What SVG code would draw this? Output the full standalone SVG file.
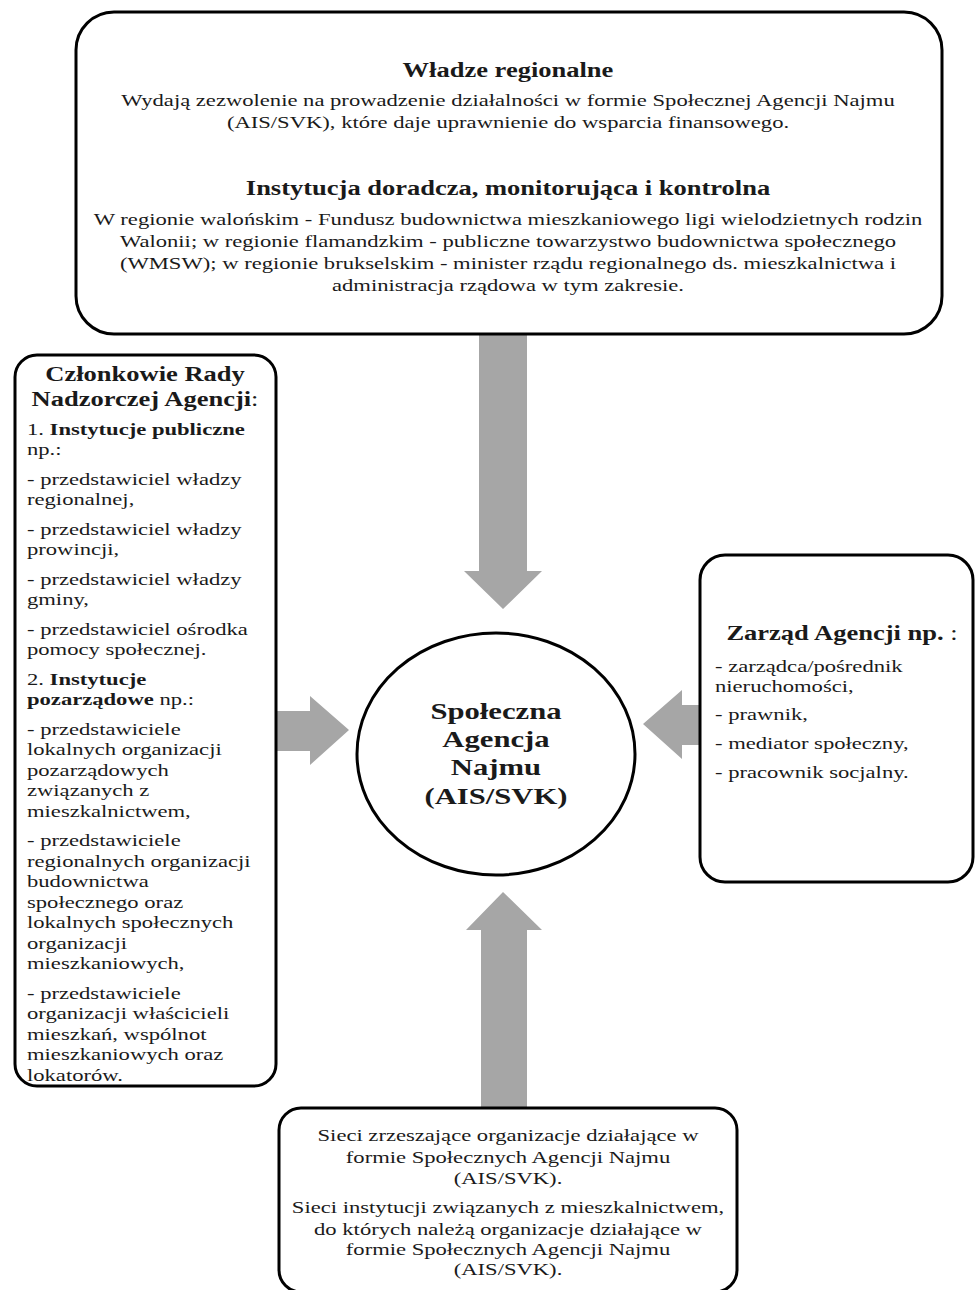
<svg xmlns="http://www.w3.org/2000/svg" width="975" height="1290" viewBox="0 0 975 1290">
<style>
.box{fill:#fff;stroke:#000;stroke-width:3}
.arr{fill:#a6a6a6}
text{font-family:"Liberation Serif","Times New Roman",serif;fill:#1a1a1a}
.b{font-weight:bold}
.t{font-size:20.4px;font-weight:bold}
.p{font-size:17.4px}
.c{font-size:23.6px;font-weight:bold}
</style>
<rect width="975" height="1290" fill="#fff"/>
<g id="connectors">
<polygon class="arr" points="479,334 527,334 527,571 542,571 503,609 464,571 479,571"/>
<polygon class="arr" points="276,711 310,711 310,696 349,730 310,765 310,751 276,751"/>
<polygon class="arr" points="700,705 682,705 682,690 643,724 682,759 682,745 700,745"/>
<polygon class="arr" points="481,1108 527,1108 527,930 542,930 503,892 466,930 481,930"/>
</g>
<g id="regional">
<rect class="box" x="76" y="12" width="866" height="322" rx="38"/>
<g transform="translate(508 0) scale(1.3 1)" text-anchor="middle">
<text class="t" x="0" y="77">Władze regionalne</text>
<text class="p" x="0" y="106">Wydają zezwolenie na prowadzenie działalności w formie Społecznej Agencji Najmu</text>
<text class="p" x="0" y="128">(AIS/SVK), które daje uprawnienie do wsparcia finansowego.</text>
<text class="t" x="0" y="195">Instytucja doradcza, monitorująca i kontrolna</text>
<text class="p" x="0" y="225">W regionie walońskim - Fundusz budownictwa mieszkaniowego ligi wielodzietnych rodzin</text>
<text class="p" x="0" y="247">Walonii; w regionie flamandzkim - publiczne towarzystwo budownictwa społecznego</text>
<text class="p" x="0" y="269">(WMSW); w regionie brukselskim - minister rządu regionalnego ds. mieszkalnictwa i</text>
<text class="p" x="0" y="291">administracja rządowa w tym zakresie.</text>
</g>
</g>
<g id="board">
<rect class="box" x="15" y="355" width="261" height="731" rx="22"/>
<g transform="translate(145 0) scale(1.3 1)" text-anchor="middle">
<text class="t" x="0" y="381">Członkowie Rady</text>
<text class="t" x="0" y="406">Nadzorczej Agencji<tspan font-weight="normal">:</tspan></text>
</g>
<g transform="translate(27 0) scale(1.3 1)">
<text class="p" x="0" y="435">1. <tspan class="b">Instytucje publiczne</tspan></text>
<text class="p" x="0" y="455.5">np.:</text>
<text class="p" x="0" y="485">- przedstawiciel władzy</text>
<text class="p" x="0" y="505.5">regionalnej,</text>
<text class="p" x="0" y="535">- przedstawiciel władzy</text>
<text class="p" x="0" y="555.5">prowincji,</text>
<text class="p" x="0" y="585">- przedstawiciel władzy</text>
<text class="p" x="0" y="605.5">gminy,</text>
<text class="p" x="0" y="635">- przedstawiciel ośrodka</text>
<text class="p" x="0" y="655.5">pomocy społecznej.</text>
<text class="p" x="0" y="685">2. <tspan class="b">Instytucje</tspan></text>
<text class="p" x="0" y="705.5"><tspan class="b">pozarządowe</tspan> np.:</text>
<text class="p" x="0" y="735">- przedstawiciele</text>
<text class="p" x="0" y="755.5">lokalnych organizacji</text>
<text class="p" x="0" y="776">pozarządowych</text>
<text class="p" x="0" y="796.5">związanych z</text>
<text class="p" x="0" y="817">mieszkalnictwem,</text>
<text class="p" x="0" y="846.5">- przedstawiciele</text>
<text class="p" x="0" y="867">regionalnych organizacji</text>
<text class="p" x="0" y="887.5">budownictwa</text>
<text class="p" x="0" y="908">społecznego oraz</text>
<text class="p" x="0" y="928.5">lokalnych społecznych</text>
<text class="p" x="0" y="949">organizacji</text>
<text class="p" x="0" y="969.5">mieszkaniowych,</text>
<text class="p" x="0" y="999">- przedstawiciele</text>
<text class="p" x="0" y="1019.5">organizacji właścicieli</text>
<text class="p" x="0" y="1040">mieszkań, wspólnot</text>
<text class="p" x="0" y="1060.5">mieszkaniowych oraz</text>
<text class="p" x="0" y="1081">lokatorów.</text>
</g>
</g>
<g id="agency">
<ellipse cx="496" cy="754" rx="139" ry="121" fill="#fff" stroke="#000" stroke-width="3"/>
<g transform="translate(496 0) scale(1.3 1)" text-anchor="middle">
<text class="c" x="0" y="719">Społeczna</text>
<text class="c" x="0" y="747">Agencja</text>
<text class="c" x="0" y="775">Najmu</text>
<text class="c" x="0" y="804">(AIS/SVK)</text>
</g>
</g>
<g id="management">
<rect class="box" x="700" y="555" width="273" height="327" rx="25"/>
<g transform="translate(842 0) scale(1.3 1)" text-anchor="middle">
<text class="t" x="0" y="640">Zarząd Agencji np.<tspan font-weight="normal"> :</tspan></text>
</g>
<g transform="translate(715 0) scale(1.3 1)">
<text class="p" x="0" y="672">- zarządca/pośrednik</text>
<text class="p" x="0" y="692">nieruchomości,</text>
<text class="p" x="0" y="720">- prawnik,</text>
<text class="p" x="0" y="749">- mediator społeczny,</text>
<text class="p" x="0" y="778">- pracownik socjalny.</text>
</g>
</g>
<g id="networks">
<rect class="box" x="279" y="1108" width="458" height="184" rx="22"/>
<g transform="translate(508 0) scale(1.3 1)" text-anchor="middle">
<text class="p" x="0" y="1141">Sieci zrzeszające organizacje działające w</text>
<text class="p" x="0" y="1163">formie Społecznych Agencji Najmu</text>
<text class="p" x="0" y="1184">(AIS/SVK).</text>
<text class="p" x="0" y="1213">Sieci instytucji związanych z mieszkalnictwem,</text>
<text class="p" x="0" y="1235">do których należą organizacje działające w</text>
<text class="p" x="0" y="1255">formie Społecznych Agencji Najmu</text>
<text class="p" x="0" y="1275">(AIS/SVK).</text>
</g>
</g>
</svg>
